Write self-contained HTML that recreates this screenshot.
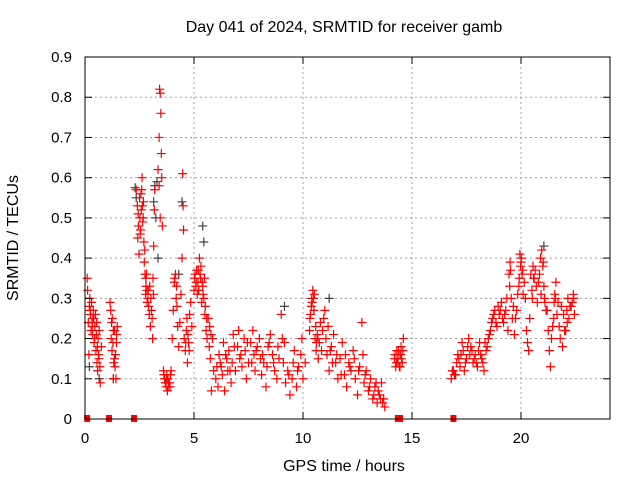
<!DOCTYPE html>
<html><head><meta charset="utf-8"><style>
body{margin:0;background:#fff;}
svg text{font-family:"Liberation Sans",sans-serif;font-size:15px;fill:#000;}
svg text.big{font-size:16px;}
</style></head><body>
<svg id="chart" width="640" height="480" xmlns="http://www.w3.org/2000/svg">
<text class="big" x="344" y="32" text-anchor="middle">Day 041 of 2024, SRMTID for receiver gamb</text>
<text class="big" x="344" y="471" text-anchor="middle">GPS time / hours</text>
<text class="big" transform="translate(18,238) rotate(-90)" text-anchor="middle">SRMTID / TECUs</text>
<g id="grid"></g>
<g id="gray"></g>
<g id="red"></g>
<rect x="85" y="57" width="525" height="362" fill="none" stroke="#000" stroke-width="1"/>
<g id="ticks"></g>
</svg>
<script>
const xTicks=[0,5,10,15,20];
const yTicks=[0,0.1,0.2,0.3,0.4,0.5,0.6,0.7,0.8,0.9];
const yTickLabels=["0","0.1","0.2","0.3","0.4","0.5","0.6","0.7","0.8","0.9"];
const redTimes=[0.10,0.12,0.15,0.18,0.2,0.22,0.25,0.28,0.3,0.32,0.35,0.38,0.4,0.42,0.45,0.48,0.5,0.52,0.55,0.58,0.6,0.62,0.65,0.68,0.7,0.75,
1.15,1.18,1.2,1.22,1.25,1.28,1.3,1.32,1.35,1.38,1.4,1.42,1.45,1.48,1.3,
2.35,2.4,2.42,2.45,2.48,2.5,2.52,2.55,2.58,2.6,2.62,2.65,2.68,2.7,2.72,2.75,2.78,2.8,2.82,2.85,2.88,2.9,2.95,3.0,3.05,3.1,3.12,3.15,3.18,3.2,
3.35,3.4,3.42,3.45,3.48,3.5,3.52,3.55,3.45,3.4,
3.6,3.65,3.7,3.72,3.75,3.78,3.8,3.85,3.9,3.95,
4.0,4.05,4.1,4.15,4.2,4.25,4.3,4.35,4.4,4.45,4.48,4.5,4.52,4.55,4.6,4.65,4.7,4.75,4.8,4.85,4.9,
5.0,5.05,5.1,5.15,5.2,5.25,5.3,5.35,5.4,5.45,5.5,5.55,5.6,
5.65,5.7,5.75,5.8,5.85,5.9,6.0,6.05,6.1,6.15,6.2,6.3,6.35,6.4,6.5,6.55,6.6,6.7,6.75,6.8,6.9,7.0,7.05,7.1,7.2,7.3,7.35,7.4,7.5,7.6,7.7,7.75,7.8,7.9,8.0,8.05,8.1,8.2,8.3,8.35,8.4,8.5,8.6,8.7,8.8,8.9,9.0,9.05,9.1,9.2,9.3,9.4,9.5,9.6,9.7,9.8,9.9,10.0,10.1,
10.3,10.35,10.4,10.45,10.5,10.55,10.6,10.65,10.7,10.75,10.8,10.9,11.0,11.05,11.1,11.2,11.3,11.4,11.5,11.6,11.7,11.8,11.9,12.0,12.1,12.2,12.3,12.4,12.5,12.6,12.7,12.75,12.8,12.9,13.0,13.1,13.2,13.3,13.4,13.5,13.6,13.7,13.75,
14.2,14.25,14.3,14.35,14.4,14.45,14.5,14.55,14.6,
16.8,16.9,17.0,17.05,17.1,17.2,17.3,17.35,17.4,17.5,17.6,17.7,17.8,17.9,18.0,18.1,18.2,18.3,18.4,18.5,18.6,18.7,18.8,18.9,19.0,19.1,19.2,19.3,19.4,19.45,19.5,19.55,19.6,19.7,19.8,19.9,19.95,20.0,20.05,20.1,20.2,20.25,20.3,20.35,20.4,20.5,20.55,20.6,20.7,20.75,20.8,20.9,20.95,21.0,21.05,21.1,21.2,21.25,21.3,21.35,21.4,21.5,21.55,21.6,21.7,21.75,21.8,21.9,22.0,22.1,22.15,22.2,22.3,22.4,22.45,
0.24,0.33,0.36,0.44,0.53,0.57,0.64,1.24,1.36,1.44,
2.44,2.53,2.57,2.63,2.67,2.74,2.79,2.84,2.92,2.97,3.02,3.08,3.14,
3.62,3.68,3.74,3.82,3.88,3.92,4.12,4.18,4.22,4.62,4.68,4.72,4.78,
5.02,5.08,5.12,5.18,5.22,5.28,5.32,5.38,5.42,5.48,5.52,5.58,5.72,5.78,
6.25,6.45,6.65,6.85,7.15,7.45,7.65,7.85,8.15,8.45,8.65,8.85,9.15,9.35,9.55,9.75,9.95,
10.32,10.38,10.42,10.48,10.52,10.58,10.62,10.68,10.85,10.95,11.15,11.25,11.35,11.55,11.75,11.95,12.15,12.35,12.55,12.85,13.05,13.25,13.35,13.45,13.55,13.65,
14.22,14.28,14.32,14.38,14.42,14.48,14.52,14.58,
16.85,16.95,17.15,17.25,17.45,17.55,17.65,17.75,17.85,17.95,18.05,18.15,18.25,18.35,18.45,18.55,18.65,18.75,18.85,18.95,19.05,19.15,19.25,19.35,19.48,19.52,19.65,19.75,19.85,19.92,19.98,20.02,20.08,20.15,20.45,20.52,20.58,20.65,20.85,20.92,21.02,21.08,21.15,21.45,21.52,21.58,21.65,21.85,21.95,22.05,22.12,22.25,22.35,22.42];
const redValues=[.35,.32,.24,.16,.28,.3,.26,.22,.29,.24,.21,.27,.25,.19,.23,.26,.17,.21,.14,.12,.2,.16,.22,.13,.09,.18,
.29,.27,.2,.24,.25,.19,.22,.14,.15,.13,.16,.1,.21,.23,.1,
.57,.53,.45,.48,.41,.55,.5,.47,.52,.57,.6,.49,.54,.44,.39,.36,.31,.33,.36,.29,.3,.32,.26,.23,.27,.2,.35,.43,.52,.57,
.62,.7,.82,.81,.76,.66,.6,.48,.5,.58,
.12,.1,.09,.08,.11,.07,.1,.09,.08,.12,
.2,.27,.34,.36,.33,.23,.18,.24,.31,.4,.61,.53,.47,.2,.17,.22,.14,.19,.26,.29,.23,
.32,.36,.34,.31,.37,.4,.35,.29,.33,.3,.26,.22,.2,
.25,.18,.15,.07,.2,.12,.1,.13,.08,.16,.14,.11,.19,.07,.15,.12,.17,.09,.14,.21,.12,.18,.22,.15,.13,.2,.17,.1,.14,.19,.22,.16,.12,.18,.2,.15,.11,.14,.08,.13,.18,.21,.16,.12,.1,.15,.26,.2,.14,.09,.12,.06,.1,.17,.08,.13,.16,.1,.14,
.22,.26,.3,.32,.27,.2,.17,.21,.15,.19,.24,.22,.27,.2,.16,.12,.18,.21,.14,.1,.15,.19,.11,.08,.14,.12,.17,.1,.06,.13,.24,.16,.09,.12,.07,.1,.05,.08,.04,.06,.09,.05,.03,
.15,.13,.17,.14,.16,.13,.18,.14,.2,
.1,.12,.11,.14,.16,.13,.19,.17,.12,.15,.2,.18,.14,.16,.13,.19,.15,.12,.17,.2,.22,.25,.27,.23,.26,.29,.24,.27,.22,.36,.39,.3,.25,.21,.27,.33,.41,.39,.36,.31,.3,.22,.19,.17,.25,.32,.38,.35,.33,.29,.34,.4,.42,.38,.33,.29,.27,.22,.17,.13,.2,.25,.31,.34,.29,.23,.2,.18,.22,.27,.3,.25,.28,.31,.26,
.27,.23,.25,.2,.24,.18,.15,.17,.22,.19,
.51,.46,.56,.53,.5,.42,.35,.32,.28,.33,.3,.25,.31,
.11,.09,.1,.08,.09,.11,.35,.3,.28,.19,.25,.21,.17,
.35,.33,.37,.34,.32,.36,.38,.34,.31,.35,.28,.25,.23,.21,
.13,.16,.12,.18,.16,.19,.14,.17,.16,.19,.14,.18,.19,.11,.14,.12,.2,
.25,.28,.29,.3,.31,.23,.19,.2,.17,.25,.23,.17,.14,.16,.11,.16,.13,.15,.12,.11,.08,.06,.09,.07,.05,.04,
.16,.14,.15,.17,.13,.16,.15,.17,
.12,.11,.15,.16,.14,.18,.16,.17,.15,.14,.17,.16,.14,.19,.18,.21,.24,.26,.24,.28,.27,.25,.26,.3,.33,.37,.28,.25,.31,.35,.38,.4,.37,.34,.36,.3,.35,.37,.36,.31,.39,.3,.27,.23,.29,.3,.26,.28,.26,.22,.24,.28,.29,.3,.32,.27];
const zeroTimes=[0.1,1.1,2.25,14.35,14.45,16.9];
const grayTimes=[2.3,2.35,3.2,3.3,3.15,3.35,5.4,5.45,5.2,0.2,1.3,4.45,9.15,11.2,21.05,4.3,3.25,0.65];
const grayValues=[.575,.55,.58,.59,.54,.4,.48,.44,.32,.13,.1,.54,.28,.3,.43,.36,.5,.1];

const X=t=>85+t*21.8, Y=v=>419-v*402.2;
const NS="http://www.w3.org/2000/svg";
function mk(tag,attrs,parent){const e=document.createElementNS(NS,tag);for(const k in attrs)e.setAttribute(k,attrs[k]);parent.appendChild(e);return e;}
const grid=document.getElementById('grid'),ticks=document.getElementById('ticks');
xTicks.forEach(t=>{
  if(t>0){const g=mk('line',{x1:X(t),x2:X(t),y1:57,y2:419,stroke:'#a0a0a0','stroke-dasharray':'2,3'},grid);
  
  }
  mk('line',{x1:X(t),x2:X(t),y1:419,y2:412,stroke:'#000'},ticks);
  mk('line',{x1:X(t),x2:X(t),y1:57,y2:64,stroke:'#000'},ticks);
  const l=mk('text',{x:X(t),y:443,'text-anchor':'middle'},ticks);l.textContent=t;
  
  
});
yTicks.forEach((v,i)=>{
  if(v>0&&v<0.9){const g=mk('line',{x1:85,x2:610,y1:Y(v),y2:Y(v),stroke:'#a0a0a0','stroke-dasharray':'2,3'},grid);
  
  }
  mk('line',{x1:85,x2:92,y1:Y(v),y2:Y(v),stroke:'#000'},ticks);
  mk('line',{x1:610,x2:603,y1:Y(v),y2:Y(v),stroke:'#000'},ticks);
  const l=mk('text',{x:72,y:Y(v)+5,'text-anchor':'end'},ticks);l.textContent=yTickLabels[i];
  
  
});
function plus(g,t,v,col){
  const x=X(t),y=Y(v);
  const p=mk('path',{d:`M${x-4.5},${y}H${x+4.5}M${x},${y-4.5}V${y+4.5}`,stroke:col,'stroke-width':1.2,fill:'none'},g);
  
  
}
const gray=document.getElementById('gray'),red=document.getElementById('red');
grayTimes.forEach((t,i)=>plus(gray,t,grayValues[i],'#404040'));
redTimes.forEach((t,i)=>plus(red,t,redValues[i],'#ff0000'));
zeroTimes.forEach(t=>{
  const r=mk('rect',{x:X(t)-3,y:415,width:6,height:7,fill:'#ff0000'},red);
  
  
});
</script>
</body></html>
